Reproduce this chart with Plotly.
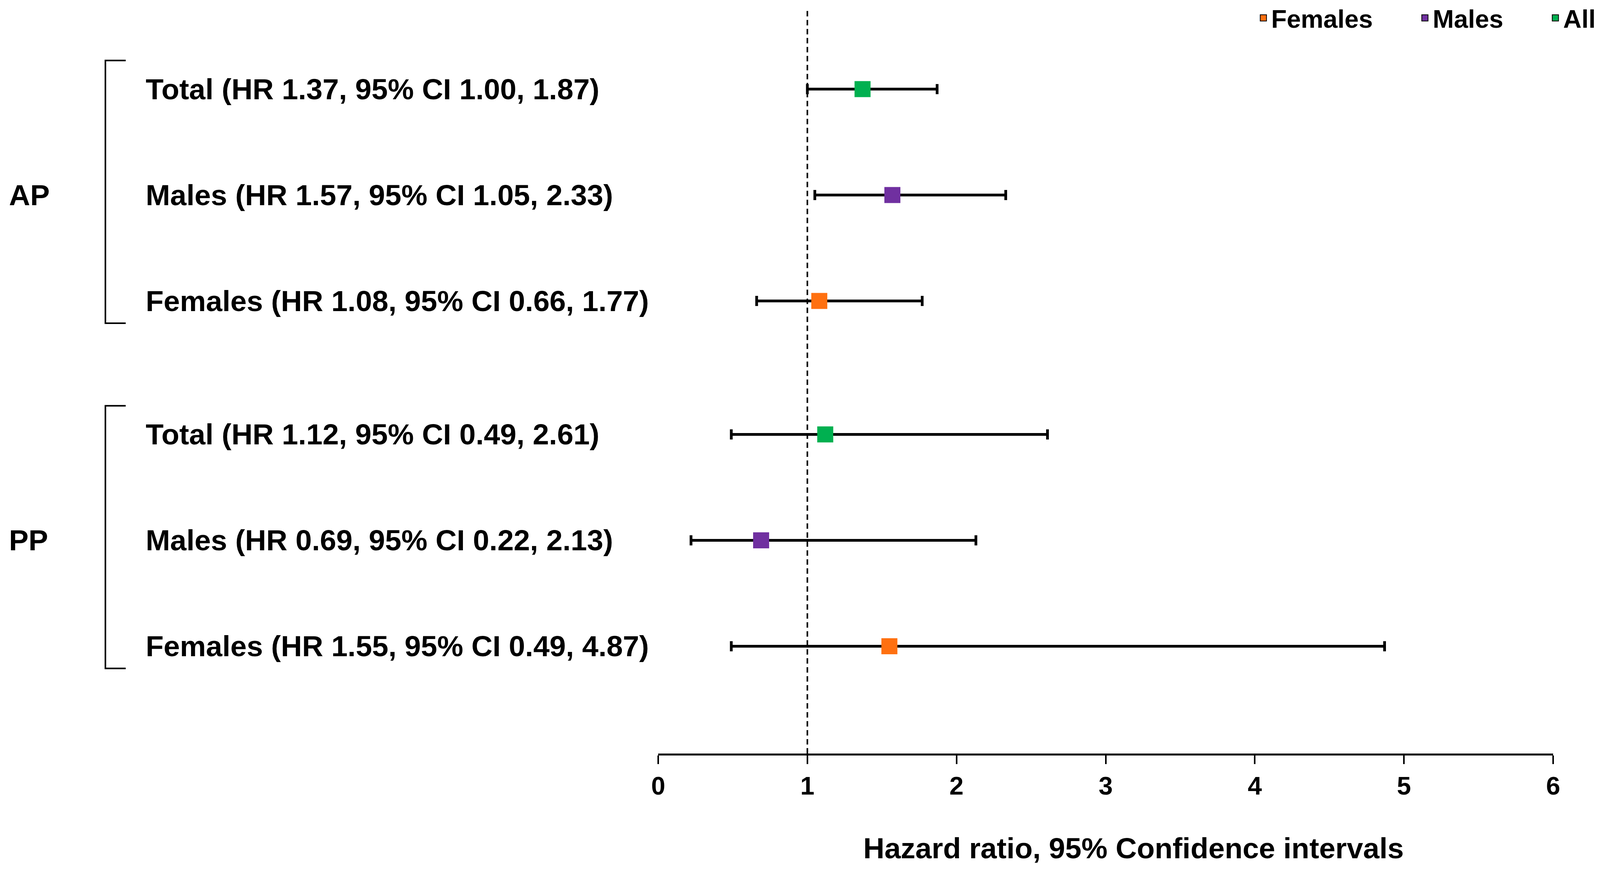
import plotly.graph_objects as go

# ---------------------------------------------------------
# DATA
# ---------------------------------------------------------
groups = ["AP", "AP", "AP", "PP", "PP", "PP"]
subgroups = ["Total", "Males", "Females", "Total", "Males", "Females"]
hr = [1.37, 1.57, 1.08, 1.12, 0.69, 1.55]
ci_low = [1.00, 1.05, 0.66, 0.49, 0.22, 0.49]
ci_high = [1.87, 2.33, 1.77, 2.61, 2.13, 4.87]

legend_names = ["Females", "Males", "All"]
series_of_subgroup = {"Females": "Females", "Males": "Males", "Total": "All"}
series_colors = {"Females": "#FF7010", "Males": "#7030A0", "All": "#00B050"}

x_ticks = [0, 1, 2, 3, 4, 5, 6]
ref_line = 1
x_title = "Hazard ratio, 95% Confidence intervals"

# ---------------------------------------------------------
# LAYOUT CONSTANTS
# positions are measured on the 4251 x 2226 picture, then mapped to
# page px (page is 4096 css px wide here, body margin 8)
# ---------------------------------------------------------
SX = 4096 / 4251
SY = 1.0
OFF = 8


def fx(p):
    return p * SX - OFF


def fy(p):
    return p * SY - OFF


W = 4096 - 2 * OFF
H = round(2226 * SY) - 2 * OFF
M_L = round(fx(1749))
M_R = round(W - fx(4126))
M_T = round(fy(27))
M_B = round(H - fy(1928))
PLOT_W = W - M_L - M_R
PLOT_H = H - M_T - M_B
ROW_PX = 271 * SY
GROUP_STEP = 3.26
FONT = "Liberation Sans"
BIG = 75
SMALL = 65
LEGEND_PAD = "\u00a0" * 6


def px_x(p):
    return (fx(p) - M_L) / PLOT_W


def px_y(p):
    return 1 - (fy(p) - M_T) / PLOT_H


group_order = list(dict.fromkeys(groups))
y_pos = []
seen = {}
for g in groups:
    k = seen.get(g, 0)
    y_pos.append(k + group_order.index(g) * GROUP_STEP)
    seen[g] = k + 1

fig = go.Figure()

# data traces
for name in legend_names:
    idx = [i for i, s in enumerate(subgroups) if series_of_subgroup[s] == name]
    fig.add_trace(go.Scatter(
        x=[hr[i] for i in idx],
        y=[y_pos[i] for i in idx],
        mode="markers",
        marker=dict(symbol="square", size=41, color=series_colors[name]),
        error_x=dict(
            type="data",
            symmetric=False,
            array=[ci_high[i] - hr[i] for i in idx],
            arrayminus=[hr[i] - ci_low[i] for i in idx],
            color="black",
            thickness=7,
            width=13,
        ),
        showlegend=False,
    ))

# legend-only traces
for j, name in enumerate(legend_names):
    fig.add_trace(go.Scatter(
        x=[None], y=[None],
        mode="markers",
        name=name + (LEGEND_PAD if j < len(legend_names) - 1 else ""),
        marker=dict(symbol="square", size=16, color=series_colors[name],
                    line=dict(color="black", width=2)),
    ))

# row labels
for i, s in enumerate(subgroups):
    fig.add_annotation(
        x=px_x(385), xref="paper", xanchor="left",
        y=y_pos[i], yref="y", yanchor="middle",
        text=f"{s} (HR {hr[i]:.2f}, 95% CI {ci_low[i]:.2f}, {ci_high[i]:.2f})",
        showarrow=False,
        font=dict(family=FONT, size=BIG, color="black", weight="bold"),
    )

# group labels and brackets
for gi, g in enumerate(group_order):
    rows = [y_pos[i] for i in range(len(groups)) if groups[i] == g]
    mid = (rows[0] + rows[-1]) / 2
    fig.add_annotation(
        x=px_x(22), xref="paper", xanchor="left",
        y=mid, yref="y", yanchor="middle",
        text=g, showarrow=False,
        font=dict(family=FONT, size=BIG, color="black", weight="bold"),
    )
    top = rows[0] - 0.27
    bot = rows[-1] + 0.21
    xv, xa = px_x(280), px_x(334)
    fig.add_shape(
        type="path", xref="paper", yref="y",
        path=f"M {xa},{top} L {xv},{top} L {xv},{bot} L {xa},{bot}",
        line=dict(color="black", width=4),
    )

# reference line at HR = 1
fig.add_shape(
    type="line", xref="x", yref="paper",
    x0=ref_line, x1=ref_line, y0=0, y1=1,
    line=dict(color="black", width=4, dash="14px,9px"),
)

# axis title
fig.add_annotation(
    x=px_x(3012), xref="paper", xanchor="center",
    y=px_y(2170), yref="paper", yanchor="middle",
    text=x_title, showarrow=False,
    font=dict(family=FONT, size=BIG, color="black", weight="bold"),
)

top_val = -(fy(228) - M_T) / ROW_PX
bot_val = (H - M_B - fy(228)) / ROW_PX

fig.update_layout(
    width=W, height=H,
    margin=dict(l=M_L, r=M_R, t=M_T, b=M_B, autoexpand=False),
    plot_bgcolor="white",
    paper_bgcolor="white",
    xaxis=dict(
        range=[x_ticks[0], x_ticks[-1]],
        tickmode="array",
        tickvals=x_ticks,
        ticks="outside",
        ticklen=22,
        tickwidth=4,
        tickcolor="black",
        showline=True,
        linecolor="black",
        linewidth=5,
        showgrid=False,
        zeroline=False,
        tickfont=dict(family=FONT, size=SMALL, color="black", weight="bold"),
    ),
    yaxis=dict(
        range=[bot_val, top_val],
        visible=False,
        showgrid=False,
        zeroline=False,
    ),
    legend=dict(
        orientation="h",
        x=px_x(4245), xanchor="right",
        y=px_y(46), yanchor="middle",
        font=dict(family=FONT, size=SMALL, color="black", weight="bold"),
        bgcolor="rgba(0,0,0,0)",
    ),
)

fig.write_html("out.html")
